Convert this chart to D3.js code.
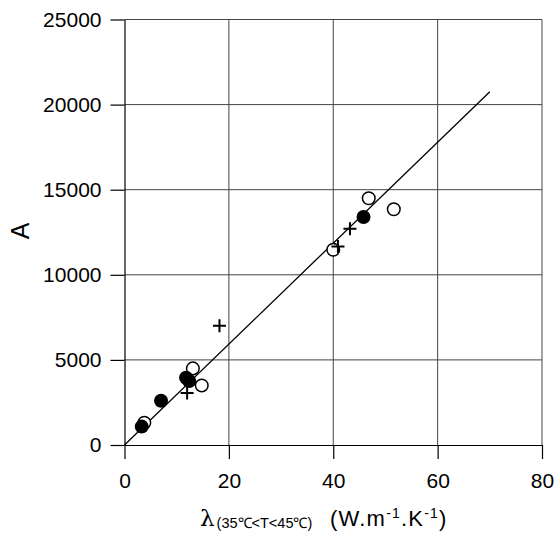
<!DOCTYPE html>
<html>
<head>
<meta charset="utf-8">
<script src="https://cdn.jsdelivr.net/npm/d3@7"></script>
<style>
  body { margin: 0; background: #fff; }
  text { font-family: Arial, "Liberation Sans", sans-serif; }
</style>
</head>
<body>
<script>
// data
const filled = [[3.3, 1080], [7.0, 2600], [11.8, 3950], [12.4, 3760], [45.8, 13400]];
const open = [[3.8, 1310], [13.1, 4500], [14.8, 3500], [40.0, 11470], [46.8, 14500], [51.6, 13850]];
const plus = [[12.0, 3050], [18.2, 7000], [40.9, 11660], [43.2, 12700]];
const fitLine = [[0, 0], [70, 20750]];
const xTicks = [0, 20, 40, 60, 80];
const yTicks = [0, 5000, 10000, 15000, 20000, 25000];

const W = 557, H = 536;
const svg = d3.select("body").append("svg").attr("width", W).attr("height", H);

const x = d3.scaleLinear().domain([0, 80]).range([124.5, 542]);
const y = d3.scaleLinear().domain([0, 25000]).range([445, 19.5]);

// gridlines
const grid = svg.append("g").attr("stroke", "#444").attr("stroke-width", 1);
grid.selectAll(".gx").data(xTicks.slice(1)).enter().append("line")
  .attr("x1", d => x(d)).attr("x2", d => x(d)).attr("y1", y(0)).attr("y2", y(25000));
grid.selectAll(".gy").data(yTicks.slice(1)).enter().append("line")
  .attr("y1", d => y(d)).attr("y2", d => y(d)).attr("x1", x(0)).attr("x2", x(80));

// axes
const xAxis = svg.append("g").attr("transform", `translate(0,${y(0)})`)
  .call(d3.axisBottom(x).tickValues(xTicks).tickFormat(d3.format("d"))
    .tickSize(14).tickPadding(14).tickSizeOuter(0));
const yAxis = svg.append("g").attr("transform", `translate(${x(0)},0)`)
  .call(d3.axisLeft(y).tickValues(yTicks).tickFormat(d3.format("d"))
    .tickSize(14).tickPadding(9).tickSizeOuter(0));
[xAxis, yAxis].forEach(a => {
  a.select(".domain").attr("stroke", "#000").attr("stroke-width", 1.2);
  a.selectAll(".tick line").attr("stroke", "#000").attr("stroke-width", 1.2);
  a.selectAll("text").attr("font-size", 21).attr("fill", "#000")
    .attr("font-family", "Arial, 'Liberation Sans', sans-serif");
});

// fit line
svg.append("path").datum(fitLine)
  .attr("d", d3.line().x(d => x(d[0])).y(d => y(d[1])))
  .attr("stroke", "#000").attr("stroke-width", 1.3).attr("fill", "none");

// markers
svg.selectAll(".open").data(open).enter().append("circle")
  .attr("cx", d => x(d[0])).attr("cy", d => y(d[1])).attr("r", 6.3)
  .attr("fill", "#fff").attr("stroke", "#000").attr("stroke-width", 1.5);
svg.selectAll(".filled").data(filled).enter().append("circle")
  .attr("cx", d => x(d[0])).attr("cy", d => y(d[1])).attr("r", 7)
  .attr("fill", "#000");
const s = 6.5;
svg.selectAll(".plus").data(plus).enter().append("path")
  .attr("d", d => `M${x(d[0]) - s},${y(d[1])}H${x(d[0]) + s}M${x(d[0])},${y(d[1]) - s}V${y(d[1]) + s}`)
  .attr("stroke", "#000").attr("stroke-width", 2);

// axis titles
svg.append("text").attr("transform", "translate(29,231) rotate(-90)")
  .attr("text-anchor", "middle").attr("font-size", 25).text("A");

const xl = svg.append("text").attr("x", 200).attr("y", 526).attr("font-size", 22);
xl.append("tspan").attr("font-family", "'DejaVu Serif', serif").attr("font-size", 23).text("λ");
xl.append("tspan").attr("font-size", 14.5).attr("dy", 2).attr("dx", 2).text("(35℃<T<45℃)");
const unit = svg.append("text").attr("x", 330).attr("y", 526).attr("font-size", 22)
  .attr("letter-spacing", 1.2);
unit.append("tspan").text("(W.m");
unit.append("tspan").attr("font-size", 14).attr("dy", -8).text("-1");
unit.append("tspan").attr("dy", 8).text(".K");
unit.append("tspan").attr("font-size", 14).attr("dy", -8).text("-1");
unit.append("tspan").attr("dy", 8).text(")");
</script>
</body>
</html>
